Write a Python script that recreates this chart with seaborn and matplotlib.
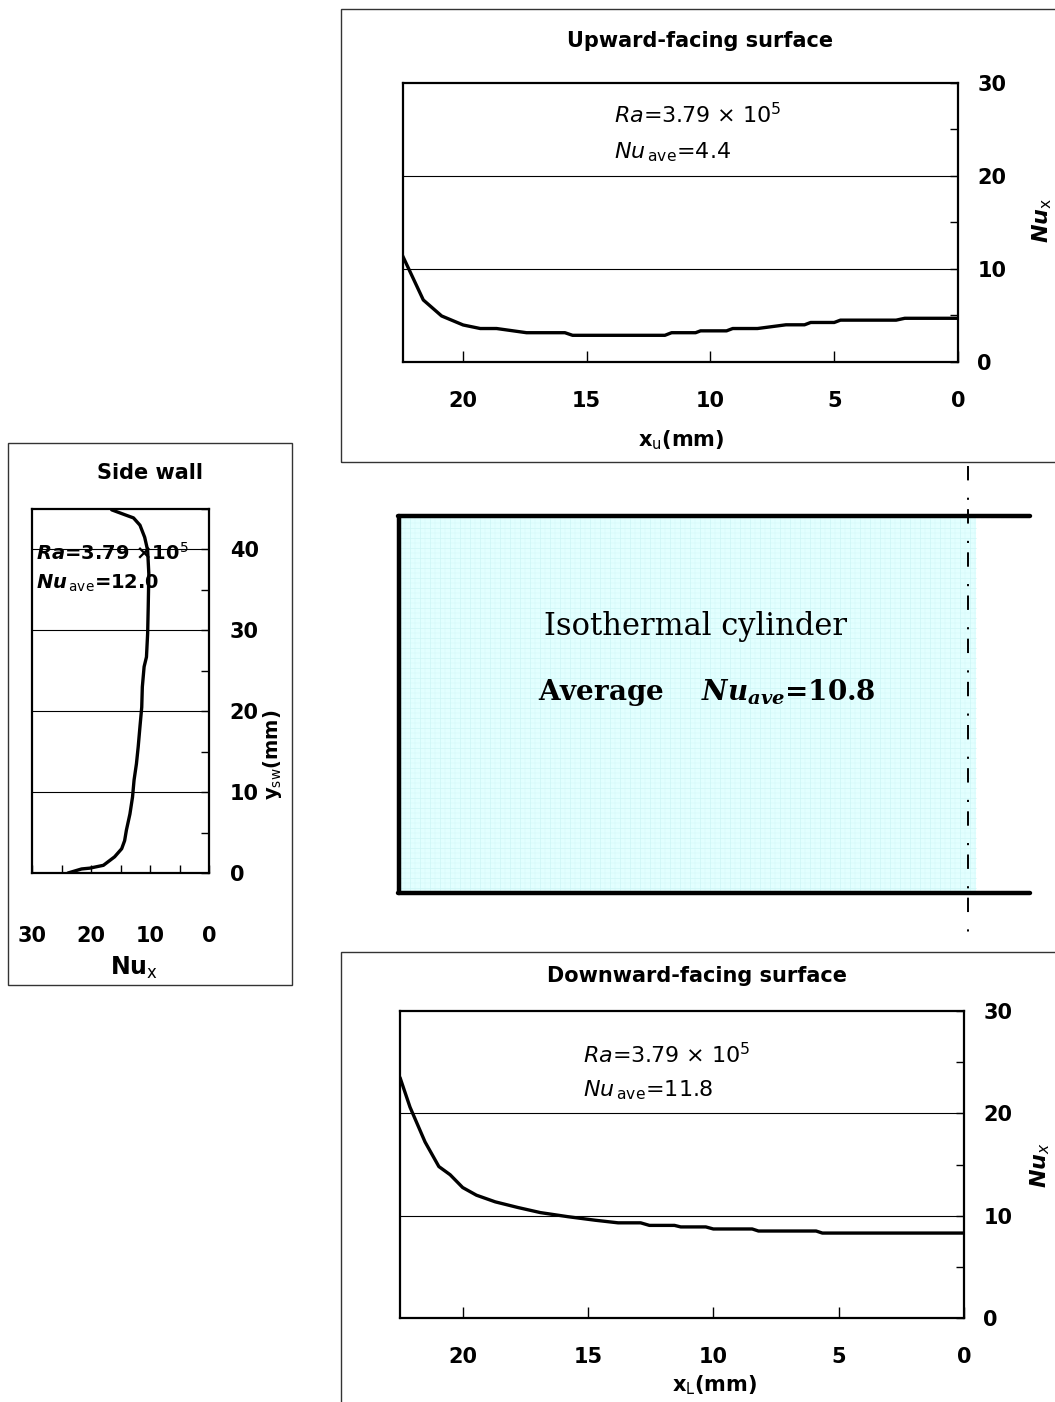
import numpy as np
import pandas as pd
import matplotlib
matplotlib.use("Agg")
import matplotlib.pyplot as plt
import seaborn as sns
from matplotlib.patches import Rectangle
from matplotlib.lines import Line2D

# Upward-facing surface: Nu_x along x_u (mm)
up_x = [22.45, 21.6, 20.86, 19.99, 19.3, 18.64, 17.43, 15.88, 15.57, 11.84, 11.57, 10.6,
        10.4, 9.35, 9.1, 8.1, 6.95, 6.2, 5.95, 5.0, 4.75, 2.5, 2.15, 0.0]
up_nu = [11.5, 6.67, 4.95, 3.98, 3.6, 3.6, 3.15, 3.15, 2.87, 2.87, 3.15, 3.15,
         3.35, 3.35, 3.6, 3.6, 4.0, 4.0, 4.25, 4.25, 4.5, 4.5, 4.7, 4.7]

# Downward-facing surface: Nu_x along x_L (mm)
down_x = [22.5, 22.1, 21.5, 20.95, 20.5, 20.0, 19.45, 18.7, 17.8, 16.9, 15.8, 14.7,
          13.8, 12.9, 12.55, 11.55, 11.3, 10.3, 10.0, 8.45, 8.2, 5.9, 5.65, 0.0]
down_nu = [23.5, 20.6, 17.2, 14.8, 14.0, 12.75, 12.0, 11.35, 10.8, 10.3, 9.9, 9.55,
           9.3, 9.3, 9.05, 9.05, 8.9, 8.9, 8.7, 8.7, 8.5, 8.5, 8.3, 8.3]

# Side wall: Nu_x versus y_sw (mm)
side_y = [0.0, 0.5, 0.6, 0.95, 2.0, 3.0, 4.0, 5.3, 7.3, 9.4, 11.5, 13.5, 15.6, 18.1,
          20.5, 23.0, 25.5, 26.7, 29.6, 32.9, 37.0, 39.9, 41.5, 43.0, 43.9, 44.3, 44.9]
side_nu = [23.9, 21.6, 20.2, 17.9, 16.0, 14.8, 14.3, 14.0, 13.4, 12.96, 12.7, 12.3, 12.0, 11.7,
           11.4, 11.3, 11.0, 10.6, 10.4, 10.3, 10.2, 10.4, 10.9, 11.7, 12.8, 14.3, 16.5]

W, H = 1055, 1402
sns.set_style("white")
plt.rcParams["font.family"] = ["DejaVu Sans"]
plt.rcParams.update({
    "text.color": "black", "xtick.color": "black", "ytick.color": "black",
    "mathtext.fontset": "custom",
    "mathtext.rm": "DejaVu Sans",
    "mathtext.it": "DejaVu Sans:italic",
    "mathtext.bf": "DejaVu Sans:italic:bold",
    "mathtext.sf": "DejaVu Serif:italic:bold",
})
fig = plt.figure(figsize=(W / 100, H / 100), dpi=100)


def rect(l, t, r, b):
    return [l / W, 1 - b / H, (r - l) / W, (b - t) / H]


def frame(l, t, r, b):
    fig.add_artist(Rectangle((l / W, 1 - b / H), (r - l) / W, (b - t) / H,
                             transform=fig.transFigure, fill=False,
                             edgecolor="#333333", linewidth=1.0))


tick_font = dict(fontsize=15, fontweight="bold")
ra_text = r"$\mathit{Ra}$=3.79 × 10$^{\mathrm{5}}$"


def style_surface(ax, xmax):
    ax.set_xlim(xmax, 0)
    ax.set_ylim(0, 30)
    ax.yaxis.tick_right()
    ax.set_yticks(np.arange(0, 31, 5))
    ax.set_yticklabels([str(v) if v % 10 == 0 else "" for v in range(0, 31, 5)], **tick_font)
    ax.set_xticks([0, 5, 10, 15, 20])
    ax.set_xticklabels(["0", "5", "10", "15", "20"], **tick_font)
    ax.tick_params(axis="y", direction="in", length=6, width=1, pad=14, right=True, left=False)
    ax.tick_params(axis="x", direction="in", length=8, width=1, pad=21, bottom=True)
    for v in (10, 20):
        ax.axhline(v, color="black", linewidth=0.8, zorder=1)
    for s in ax.spines.values():
        s.set_linewidth(1.6)
        s.set_color("black")
    ax.set_xlabel("")
    ax.set_ylabel("")


# ---- Upward-facing surface ----
frame(341, 9, 1070, 462)
ax_up = fig.add_axes(rect(403, 83, 958, 362))
sns.lineplot(x=up_x, y=up_nu, ax=ax_up, color="black", linewidth=2.4, sort=False, zorder=3)
style_surface(ax_up, 22.42)
fig.text(700 / W, 1 - 41 / H, "Upward-facing surface", ha="center", va="center",
         fontsize=15, fontweight="bold")
ax_up.text(0.38, 0.885, ra_text, transform=ax_up.transAxes, fontsize=16, va="center")
ax_up.text(0.38, 0.753, r"$\mathit{Nu}_{\,\rm ave}$=4.4", transform=ax_up.transAxes,
           fontsize=16, va="center")
fig.text(681 / W, 1 - 440 / H, r"x$_\mathrm{u}$(mm)", ha="center", va="center",
         fontsize=15, fontweight="bold")
fig.text(1042 / W, 1 - 220 / H, r"$\mathbf{Nu}_\mathrm{x}$", ha="center", va="center",
         rotation=90, fontsize=16)

# ---- Downward-facing surface ----
frame(341, 952, 1070, 1420)
ax_dn = fig.add_axes(rect(400, 1011, 964, 1318))
sns.lineplot(x=down_x, y=down_nu, ax=ax_dn, color="black", linewidth=2.4, sort=False, zorder=3)
style_surface(ax_dn, 22.5)
fig.text(697 / W, 1 - 976 / H, "Downward-facing surface", ha="center", va="center",
         fontsize=15, fontweight="bold")
ax_dn.text(0.324, 0.857, ra_text, transform=ax_dn.transAxes, fontsize=16, va="center")
ax_dn.text(0.324, 0.743, r"$\mathit{Nu}_{\,\rm ave}$=11.8", transform=ax_dn.transAxes,
           fontsize=16, va="center")
fig.text(715 / W, 1 - 1385 / H, r"x$_\mathrm{L}$(mm)", ha="center", va="center",
         fontsize=15, fontweight="bold")
fig.text(1040 / W, 1 - 1165 / H, r"$\mathbf{Nu}_\mathit{x}$", ha="center", va="center",
         rotation=90, fontsize=16)

# ---- Side wall ----
frame(8, 443, 292, 985)
ax_sw = fig.add_axes(rect(32, 509, 209, 873))
sns.lineplot(x=side_nu, y=side_y, ax=ax_sw, color="black", linewidth=2.4, sort=False,
             orient="y", zorder=3)
ax_sw.set_xlim(30, 0)
ax_sw.set_ylim(0, 45)
ax_sw.yaxis.tick_right()
ax_sw.set_yticks(np.arange(0, 46, 5))
ax_sw.set_yticklabels([str(v) if v % 10 == 0 else "" for v in range(0, 46, 5)], **tick_font)
ax_sw.set_xticks(np.arange(0, 31, 5))
ax_sw.set_xticklabels([str(v) if v % 10 == 0 else "" for v in range(0, 31, 5)], **tick_font)
ax_sw.tick_params(axis="y", direction="in", length=6, width=1, pad=15, right=True, left=False)
ax_sw.tick_params(axis="x", direction="in", length=6, width=1, pad=38, bottom=True)
for v in (10, 20, 30, 40):
    ax_sw.axhline(v, color="black", linewidth=0.8, zorder=1)
for s in ax_sw.spines.values():
    s.set_linewidth(1.6)
    s.set_color("black")
ax_sw.set_xlabel("")
ax_sw.set_ylabel("")
fig.text(150 / W, 1 - 473 / H, "Side wall", ha="center", va="center",
         fontsize=15, fontweight="bold")
ax_sw.text(0.02, 0.879, r"$\mathbf{Ra}$=3.79 ×10$^{\mathrm{5}}$", transform=ax_sw.transAxes,
           fontsize=14, va="center", fontweight="bold")
ax_sw.text(0.02, 0.797, r"$\mathbf{Nu}_{\,\rm ave}$=12.0", transform=ax_sw.transAxes,
           fontsize=14, va="center", fontweight="bold")
fig.text(134 / W, 1 - 968 / H, r"Nu$_\mathrm{x}$", ha="center", va="center", fontsize=17,
         fontweight="bold")
fig.text(273 / W, 1 - 755 / H, r"y$_\mathrm{sw}$(mm)", ha="center", va="center",
         rotation=90, fontsize=14, fontweight="bold")

# ---- Isothermal cylinder schematic (pixel coordinates of the figure) ----
ax_c = fig.add_axes([0, 0, 1, 1], zorder=-1)
ax_c.set_xlim(0, W)
ax_c.set_ylim(H, 0)
ax_c.axis("off")
fill_l, fill_r, fill_t, fill_b = 400, 976, 518, 891
ax_c.add_patch(Rectangle((fill_l, fill_t), fill_r - fill_l, fill_b - fill_t,
                         facecolor="#e2ffff", edgecolor="none", zorder=1))
for gx in np.arange(fill_l + 5, fill_r, 5):
    lw = 0.5 if (gx - fill_l) % 10 == 0 else 0.25
    ax_c.add_line(Line2D([gx, gx], [fill_t, fill_b], color="#cdf6f6", linewidth=lw, zorder=2))
for gy in np.arange(fill_t + 5, fill_b, 5):
    lw = 0.5 if (gy - fill_t) % 10 == 0 else 0.25
    ax_c.add_line(Line2D([fill_l, fill_r], [gy, gy], color="#cdf6f6", linewidth=lw, zorder=2))
ax_c.add_line(Line2D([398, 1030], [516, 516], color="black", linewidth=3.2, zorder=4))
ax_c.add_line(Line2D([398, 1030], [893, 893], color="black", linewidth=3.2, zorder=4))
ax_c.add_line(Line2D([399, 399], [516, 893], color="black", linewidth=3.2, zorder=4))
ax_c.add_line(Line2D([968, 968], [466, 938], color="black", linewidth=1.4, zorder=5,
                     linestyle=(0, (7.4, 8.9, 1.1, 4.8))))
ax_c.text(696, 627, "Isothermal cylinder", ha="center", va="center",
          fontsize=22, family="DejaVu Serif", zorder=6)
ax_c.text(706, 693, r"Average    $\mathsf{Nu_{ave}}$=10.8", ha="center",
          va="center", fontsize=20, family="DejaVu Serif", fontweight="bold", zorder=6)

fig.savefig("out.png", dpi=100)
